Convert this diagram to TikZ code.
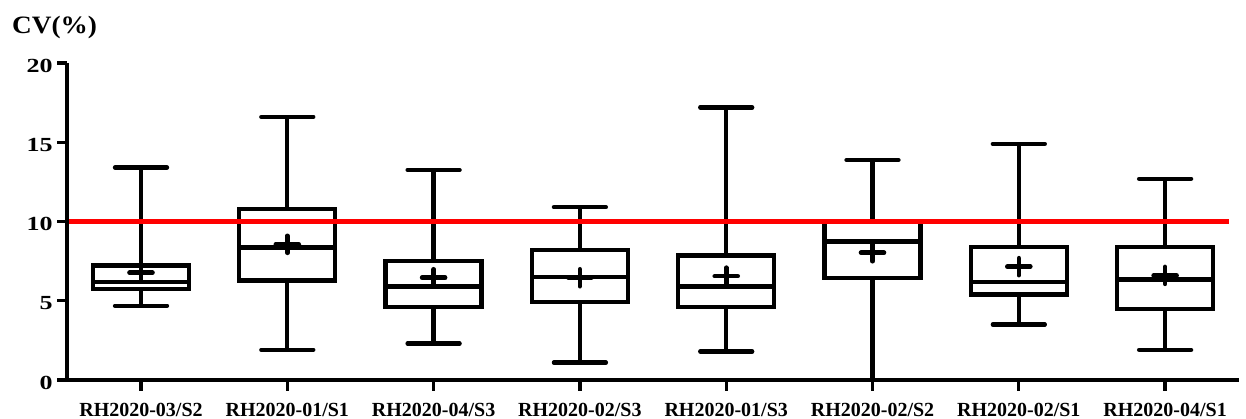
\documentclass[tikz,border=0pt]{standalone}
\usepackage{fontspec}
\setmainfont{Liberation Serif}
\tikzset{
  boxln/.style={line width=4.3pt, black},
  capln/.style={line width=4.3pt, black, line cap=round},
  plusln/.style={line width=4.6pt, black, line cap=round},
  axisln/.style={line width=3.3pt, black},
  refln/.style={line width=4.3pt, red},
  ticklab/.style={font=\bfseries\fontsize{20}{20}\selectfont, xscale=1.3, anchor=east, inner sep=0pt},
  catlab/.style={font=\bfseries\fontsize{20}{20}\selectfont, anchor=north, inner sep=0pt},
  titlelab/.style={font=\bfseries\fontsize{25}{25}\selectfont, xscale=1.09, anchor=base west, inner sep=0pt},
}
% #1 x, #2 lo, #3 q1, #4 med, #5 q3, #6 hi, #7 mean, #8 label, #9 name
\newcommand\drawbox[9]{%
  \pgfmathsetmacro\ylo{380-15.85*#2}%
  \pgfmathsetmacro\yqa{380-15.85*#3}%
  \pgfmathsetmacro\ymd{380-15.85*#4}%
  \pgfmathsetmacro\yqb{380-15.85*#5}%
  \pgfmathsetmacro\yhi{380-15.85*#6}%
  \pgfmathsetmacro\ymn{380-15.85*#7}%
  \draw[boxln] (#1,\yhi) -- (#1,\yqb);
  \draw[boxln] (#1,\yqa) -- (#1,\ylo);
  \draw[capln] ({#1-26},\yhi) -- ({#1+26},\yhi);
  \ifdim #2pt>0pt \draw[capln] ({#1-26},\ylo) -- ({#1+26},\ylo);\fi
  \draw[boxln] ({#1-48},\yqa) rectangle ({#1+48},\yqb);
  \draw[boxln] ({#1-48},\ymd) -- ({#1+48},\ymd);
  \draw[plusln] ({#1-11.5},\ymn) -- ({#1+11.5},\ymn);
  \draw[plusln] (#1,{\ymn-8.5}) -- (#1,{\ymn+8.5});
  \draw[axisln] (#1,380) -- (#1,391);
  \node[catlab] (#9) at (#1,402.5) {#8};
}
\begin{document}
\begin{tikzpicture}[x=1pt, y=-1pt]
  \useasboundingbox[fill=white] (0,0) rectangle (1246,419);
  % boxes
  \drawbox{141}{4.69}{5.76}{6.18}{7.23}{13.4}{6.77}{RH2020-03/S2}{c1}
  \drawbox{287.3}{1.91}{6.27}{8.36}{10.78}{16.6}{8.56}{RH2020-01/S1}{c2}
  \drawbox{433.6}{2.3}{4.6}{5.9}{7.5}{13.25}{6.45}{RH2020-04/S3}{c3}
  \drawbox{579.9}{1.1}{4.9}{6.5}{8.2}{10.9}{6.45}{RH2020-02/S3}{c4}
  \drawbox{726.2}{1.8}{4.6}{5.9}{7.85}{17.2}{6.55}{RH2020-01/S3}{c5}
  \drawbox{872.5}{0}{6.45}{8.73}{10}{13.88}{8.03}{RH2020-02/S2}{c6}
  \drawbox{1018.8}{3.5}{5.4}{6.2}{8.4}{14.9}{7.15}{RH2020-02/S1}{c7}
  \drawbox{1165.1}{1.9}{4.5}{6.35}{8.4}{12.7}{6.6}{RH2020-04/S1}{c8}
  % reference line
  \coordinate (r0) at (67,221.5);
  \coordinate (r1) at (1229,221.5);
  \draw[refln] (r0) -- (r1);
  % axes
  \coordinate (ytop) at (67,63);
  \coordinate (orig) at (67,380);
  \coordinate (xend) at (1239,380);
  \draw[axisln] (ytop) -- (orig) -- (xend);
  \foreach \v/\n in {0/t0,5/t5,10/t10,15/t15,20/t20}{
    \draw[axisln] (57,{380-15.85*\v}) -- (67,{380-15.85*\v});
    \node[ticklab] (\n) at (53,{382.5-15.85*\v}) {\v};
  }
  \node[titlelab] (cv) at (12,33.5) {CV(\%)};
\end{tikzpicture}
\end{document}
